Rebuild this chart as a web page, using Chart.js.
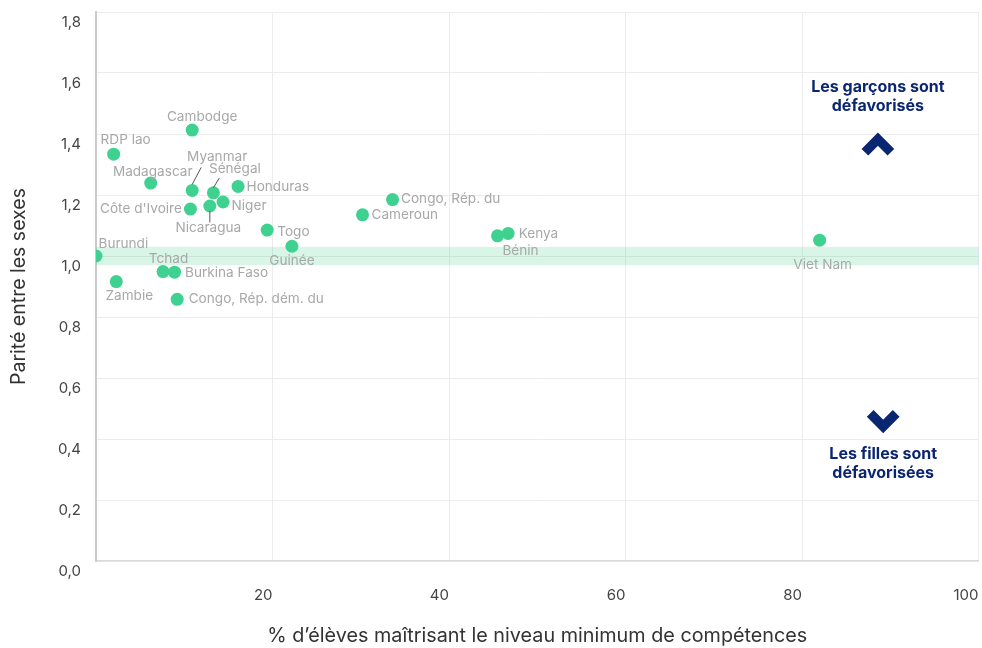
<!DOCTYPE html>
<html lang="fr">
<head>
<meta charset="utf-8">
<script src="https://cdn.jsdelivr.net/npm/chart.js@4.4.1/dist/chart.umd.min.js"></script>
<style>
  html, body { margin: 0; padding: 0; background: #fff; overflow: hidden; }
  /* a few px wider than the window so the plot reaches the right edge like the original */
  #wrap { width: 985px; height: 648px; position: relative; }
</style>
</head>
<body>
<div id="wrap"><canvas id="scatterChart"></canvas></div>
<script>
const countries = [
  "Cambodge", "RDP lao", "Madagascar", "Myanmar", "Sénégal", "Honduras", "Niger",
  "Nicaragua", "Côte d'Ivoire", "Togo", "Guinée", "Burundi", "Tchad", "Burkina Faso",
  "Zambie", "Congo, Rép. dém. du", "Congo, Rép. du", "Cameroun", "Bénin", "Kenya", "Viet Nam"
];
const skillsPct = [
  10.9, 2.0, 6.2, 10.9, 13.3, 16.1, 14.4,
  12.9, 10.7, 19.4, 22.2, 0.0, 7.6, 8.9,
  2.3, 9.2, 33.6, 30.2, 45.5, 46.7, 82.0
];
const genderParity = [
  1.413, 1.334, 1.239, 1.215, 1.207, 1.228, 1.177,
  1.164, 1.154, 1.085, 1.032, 1.0, 0.949, 0.947,
  0.916, 0.858, 1.185, 1.135, 1.066, 1.074, 1.052
];
const xTicks = [20, 40, 60, 80, 100];
const yTicks = [0, 0.2, 0.4, 0.6, 0.8, 1.0, 1.2, 1.4, 1.6, 1.8];
const parityBand = [0.97, 1.03];

const xTitle = "% d’élèves maîtrisant le niveau minimum de compétences";
const yTitle = "Parité entre les sexes";

// where each country name sits relative to its dot: [dx, dy, align, leader line]
const labelPlacement = {
  "Cambodge": [10, -13, "center"],
  "RDP lao": [12, -14, "center"],
  "Madagascar": [2, -11, "center"],
  "Myanmar": [25, -34, "center", [0, -6, 9, -23]],
  "Sénégal": [21.5, -23.5, "center", [0, -5, 6, -15]],
  "Honduras": [8.5, 0, "left"],
  "Niger": [8.5, 3.5, "left"],
  "Nicaragua": [-1.5, 22, "center", [0, 5, 0, 16.5]],
  "Côte d'Ivoire": [-8.5, 0, "right"],
  "Togo": [10, 1.5, "left"],
  "Guinée": [0, 15, "center"],
  "Burundi": [2.5, -12.5, "left"],
  "Tchad": [5.5, -12.5, "center"],
  "Burkina Faso": [10.5, 1, "left"],
  "Zambie": [13, 14.5, "center"],
  "Congo, Rép. dém. du": [11.5, 0, "left"],
  "Congo, Rép. du": [8.5, -0.5, "left"],
  "Cameroun": [9, 0.5, "left"],
  "Bénin": [23, 15, "center"],
  "Kenya": [10.5, 0, "left"],
  "Viet Nam": [3, 25, "center"]
};

// side notes, placed in data space
const notes = [
  { lines: ["Les garçons sont", "défavorisés"], x: 88.6, y: 1.522, arrow: "up", arrowY: 1.367 },
  { lines: ["Les filles sont", "défavorisées"], x: 89.2, y: 0.319, arrow: "down", arrowY: 0.457 }
];

const FONT = "Inter, 'Open Sans', sans-serif";
const GREEN = "#3fd18f";
const NAVY = "#0b2670";

const bandPlugin = {
  id: "parityBand",
  beforeDatasetsDraw(chart) {
    const { ctx, chartArea, scales } = chart;
    const top = scales.y.getPixelForValue(parityBand[1]);
    const bottom = scales.y.getPixelForValue(parityBand[0]);
    ctx.save();
    ctx.fillStyle = "rgba(61, 207, 142, 0.2)";
    ctx.fillRect(chartArea.left, top, chartArea.right - chartArea.left, bottom - top);
    ctx.restore();
  }
};

const labelPlugin = {
  id: "pointLabels",
  afterDatasetsDraw(chart) {
    const { ctx } = chart;
    const meta = chart.getDatasetMeta(0);
    ctx.save();
    ctx.font = "13.6px " + FONT;
    ctx.textBaseline = "middle";
    meta.data.forEach((pt, i) => {
      const p = labelPlacement[countries[i]];
      if (!p) return;
      ctx.fillStyle = "#a8a8a8";
      ctx.textAlign = p[2];
      ctx.fillText(countries[i], pt.x + p[0], pt.y + p[1]);
      if (p[3]) {
        ctx.strokeStyle = "#555";
        ctx.lineWidth = 1;
        ctx.beginPath();
        ctx.moveTo(pt.x + p[3][0], pt.y + p[3][1]);
        ctx.lineTo(pt.x + p[3][2], pt.y + p[3][3]);
        ctx.stroke();
      }
    });
    ctx.restore();
  }
};

const notesPlugin = {
  id: "sideNotes",
  afterDatasetsDraw(chart) {
    const { ctx, scales } = chart;
    ctx.save();
    notes.forEach(n => {
      const cx = scales.x.getPixelForValue(n.x);
      const cy = scales.y.getPixelForValue(n.y);
      ctx.fillStyle = NAVY;
      ctx.font = "bold 16px " + FONT;
      ctx.textAlign = "center";
      ctx.textBaseline = "middle";
      n.lines.forEach((t, k) => ctx.fillText(t, cx, cy + (k - (n.lines.length - 1) / 2) * 19));

      // chevron
      const ay = scales.y.getPixelForValue(n.arrowY);
      const a = 13, w = 9.5;
      const dir = n.arrow === "up" ? 1 : -1;
      const tipY = ay - dir * 4.8;
      ctx.strokeStyle = NAVY;
      ctx.lineWidth = w;
      ctx.lineJoin = "miter";
      ctx.lineCap = "butt";
      ctx.beginPath();
      ctx.moveTo(cx - a, tipY + dir * a);
      ctx.lineTo(cx, tipY);
      ctx.lineTo(cx + a, tipY + dir * a);
      ctx.stroke();
    });
    ctx.restore();
  }
};

new Chart(document.getElementById("scatterChart"), {
  type: "scatter",
  data: {
    datasets: [{
      data: countries.map((c, i) => ({ x: skillsPct[i], y: genderParity[i] })),
      backgroundColor: GREEN,
      borderWidth: 0,
      pointRadius: 6.5,
      pointHoverRadius: 6.5
    }]
  },
  options: {
    responsive: true,
    maintainAspectRatio: false,
    animation: false,
    layout: { padding: { top: 12, right: 0, bottom: 0, left: 0 } },
    plugins: {
      legend: { display: false },
      tooltip: { enabled: false }
    },
    scales: {
      x: {
        type: "linear",
        min: 0,
        max: 100,
        afterBuildTicks: s => { s.ticks = xTicks.map(v => ({ value: v })); },
        afterFit: s => { s.height = 87; s.paddingLeft = 0; s.paddingRight = 0; },
        grid: { color: "#ececec", lineWidth: 1, drawTicks: false },
        border: { color: "#d9d9d9", width: 1.5 },
        ticks: {
          align: "end",
          padding: 25,
          color: "#444",
          font: { family: FONT, size: 15 },
          callback: v => String(v)
        },
        title: {
          display: true,
          text: xTitle,
          color: "#333",
          font: { family: FONT, size: 19.8 },
          padding: { top: 0, bottom: 0 }
        }
      },
      y: {
        type: "linear",
        min: 0,
        max: 1.8,
        afterBuildTicks: s => { s.ticks = yTicks.map(v => ({ value: v })); },
        afterFit: s => { s.width = 96; s.paddingTop = 0; s.paddingBottom = 0; },
        grid: { color: "#ececec", lineWidth: 1, drawTicks: false },
        border: { color: "#cccccc", width: 2 },
        ticks: {
          padding: 15,
          labelOffset: 10.5,
          color: "#444",
          font: { family: FONT, size: 15 },
          callback: v => v.toFixed(1).replace(".", ",")
        },
        title: {
          display: true,
          text: yTitle,
          color: "#333",
          font: { family: FONT, size: 19.5 },
          padding: { top: 7, bottom: 0 }
        }
      }
    }
  },
  plugins: [bandPlugin, labelPlugin, notesPlugin]
});
</script>
</body>
</html>
